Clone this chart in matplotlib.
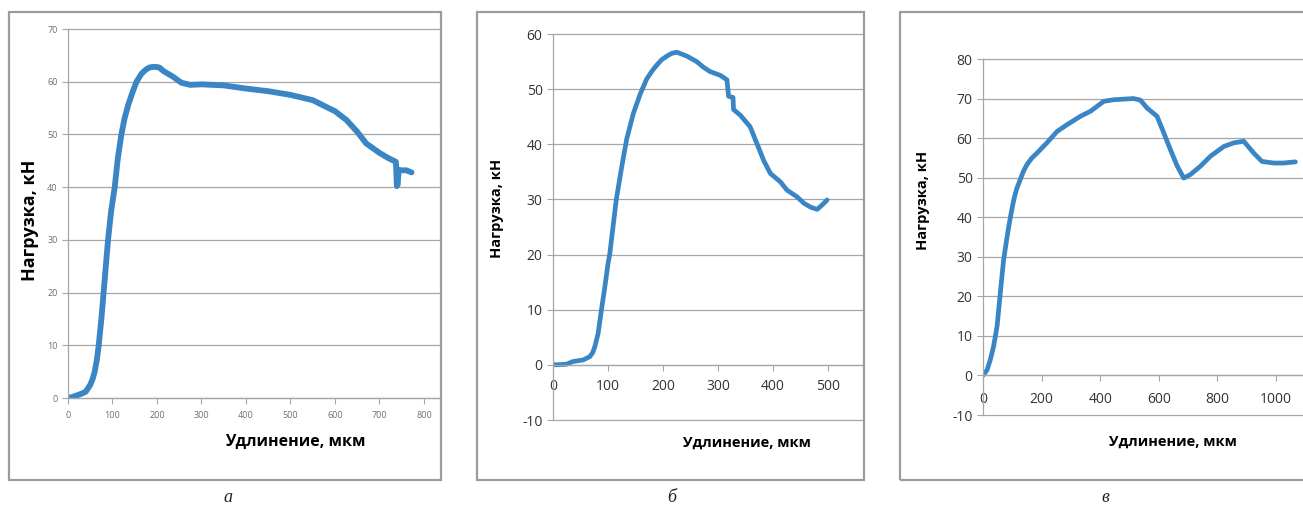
import matplotlib
matplotlib.use("Agg")
import matplotlib.pyplot as plt
from matplotlib.patches import Rectangle

plt.rcParams["axes.unicode_minus"] = False

# panel a
elong_a = [0, 10, 20, 30, 40, 50, 55, 60, 65, 69, 75, 80, 85, 90, 97, 105, 112, 120,
           127, 135, 145, 154, 165, 175, 183, 190, 198, 205, 215, 235, 255, 275, 300,
           350, 400, 450, 500, 550, 600, 625, 650, 670, 700, 720, 737, 739, 741, 743,
           745, 760, 772]
load_a = [0, 0.2, 0.5, 0.8, 1.2, 2.5, 3.5, 5, 7.3, 10, 15, 20, 25, 30, 35.5, 40, 45.5,
          50, 53, 55.5, 58, 60, 61.5, 62.3, 62.7, 62.8, 62.8, 62.7, 62, 61, 59.8, 59.4,
          59.5, 59.3, 58.7, 58.2, 57.5, 56.5, 54.4, 52.8, 50.5, 48.3, 46.5, 45.5, 44.8,
          40.2, 40.5, 43.3, 43.2, 43.2, 42.8]

# panel b
elong_b = [0, 24, 36, 55, 67, 72, 76, 82, 88, 94, 100, 103, 109, 115, 125, 134, 146,
           158, 170, 180, 188, 197, 207, 216, 225, 243, 261, 273, 285, 304, 316, 319,
           327, 328, 340, 358, 371, 383, 395, 413, 425, 443, 456, 468, 480, 489, 498]
load_b = [0, 0.1, 0.6, 0.9, 1.5, 2.2, 3.3, 5.7, 10, 14, 18.4, 20, 25, 30, 36, 41, 45.6,
          49, 51.8, 53.3, 54.3, 55.3, 56, 56.5, 56.7, 56, 55, 54, 53.2, 52.5, 51.7, 48.7,
          48.5, 46.3, 45.3, 43.2, 40, 37, 34.7, 33.2, 31.7, 30.5, 29.3, 28.6, 28.2, 29, 29.9]

# panel c
elong_c = [0, 14, 25, 36, 48, 59, 70, 80, 88, 97, 105, 115, 127, 138, 150, 166, 184,
           218, 253, 287, 332, 367, 412, 446, 514, 537, 560, 594, 617, 640, 663, 685,
           708, 742, 776, 822, 856, 890, 924, 952, 992, 1026, 1066]
load_c = [0, 1.4, 4, 7.3, 12.4, 20.8, 29, 34, 37.7, 41.4, 44.4, 47.2, 49.5, 51.6, 53.3,
          54.9, 56.2, 58.8, 61.7, 63.4, 65.5, 66.8, 69.3, 69.7, 70, 69.6, 67.6, 65.5,
          61.3, 57, 52.9, 49.9, 50.8, 52.9, 55.4, 57.9, 58.8, 59.2, 56.2, 54.1, 53.7,
          53.7, 54]

W, H = 1303, 511
fig = plt.figure(figsize=(W / 100, H / 100), dpi=100)
line_color = "#3A86C4"
grid_color = "#A6A6A6"


def px_axes(left, top, right, bottom):
    return fig.add_axes([left / W, 1 - bottom / H, (right - left) / W, (bottom - top) / H])


def frame(left, top, right, bottom):
    fig.patches.append(Rectangle((left / W, 1 - bottom / H), (right - left) / W,
                                 (bottom - top) / H, transform=fig.transFigure,
                                 fill=False, edgecolor="#9C9C9C", linewidth=1.6))


def style(ax, xlim, ylim, xticks, yticks, tick_size, tick_color, pad):
    ax.set_xlim(*xlim)
    ax.set_ylim(*ylim)
    ax.set_xticks(xticks)
    ax.set_yticks(yticks)
    for s in ["top", "right"]:
        ax.spines[s].set_visible(False)
    ax.spines["bottom"].set_position(("data", 0))
    for s in ["left", "bottom"]:
        ax.spines[s].set_color(grid_color)
        ax.spines[s].set_linewidth(0.9)
    ax.yaxis.grid(True, color=grid_color, linewidth=0.9)
    for gl in ax.get_ygridlines():
        gl.set_clip_on(False)
    ax.set_axisbelow(True)
    ax.tick_params(axis="both", direction="out", length=4, width=0.8,
                   color=grid_color, labelsize=tick_size, labelcolor=tick_color)
    ax.tick_params(axis="x", pad=pad)
    for lab in ax.get_xticklabels() + ax.get_yticklabels():
        lab.set_fontfamily("Open Sans")


label_font = dict(family="Open Sans", weight="bold", color="black")

# --- a ---
frame(9, 12, 441, 480)
ax_a = px_axes(68, 29, 440, 398)
ax_a.plot(elong_a, load_a, color=line_color, linewidth=4.2, solid_capstyle="round")
style(ax_a, (0, 836), (0, 70), range(0, 801, 100), range(0, 71, 10), 6.5, "#6E6E6E", 5)
fig.text(30 / W, 1 - 220 / H, "Нагрузка, кН", rotation=90, ha="center", va="center",
         fontsize=13, **label_font)
fig.text(295 / W, 1 - 442 / H, "Удлинение, мкм", ha="center", va="center",
         fontsize=11.5, **label_font)

# --- b ---
frame(477, 12, 864, 480)
ax_b = px_axes(553, 34, 864, 420)
ax_b.plot(elong_b, load_b, color=line_color, linewidth=3.4, solid_capstyle="round")
style(ax_b, (0, 565), (-10, 60), range(0, 501, 100), range(-10, 61, 10), 10, "#333333", 6)
fig.text(497 / W, 1 - 208 / H, "Нагрузка, кН", rotation=90, ha="center", va="center",
         fontsize=10.5, **label_font)
fig.text(747 / W, 1 - 443 / H, "Удлинение, мкм", ha="center", va="center",
         fontsize=10.5, **label_font)

# --- c ---
frame(900, 12, 1310, 480)
ax_c = px_axes(983, 59, 1303, 415)
ax_c.plot(elong_c, load_c, color=line_color, linewidth=3.4, solid_capstyle="round")
style(ax_c, (0, 1092), (-10, 80), range(0, 1001, 200), range(-10, 81, 10), 10, "#333333", 8)
fig.text(923 / W, 1 - 200 / H, "Нагрузка, кН", rotation=90, ha="center", va="center",
         fontsize=10.5, **label_font)
fig.text(1173 / W, 1 - 442 / H, "Удлинение, мкм", ha="center", va="center",
         fontsize=10.5, **label_font)

# captions
for x, s in [(228, "а"), (672, "б"), (1105, "в")]:
    fig.text(x / W, 1 - 498 / H, s, ha="center", va="center", fontsize=13,
             family="Liberation Serif", style="italic", color="#222222")

fig.savefig("out.png", dpi=100)
